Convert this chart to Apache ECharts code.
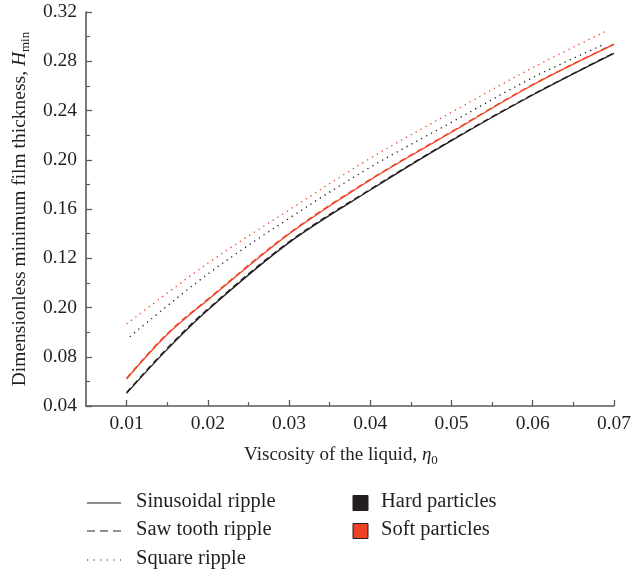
<!DOCTYPE html>
<html>
<head>
<meta charset="utf-8">
<script src="https://cdn.jsdelivr.net/npm/echarts@6/dist/echarts.min.js"></script>
<style>
  html, body { margin: 0; padding: 0; background: #fff; }
  #chart { width: 634px; height: 578px; }
</style>
</head>
<body>
<div id="chart"></div>
<script>
// Viscosity values (x) shared by the sinusoidal and saw tooth curves
const viscosity = [0.01, 0.015, 0.02, 0.03, 0.04, 0.05, 0.06, 0.07];
const sinusoidalHard = [0.0103, 0.046, 0.078, 0.1327, 0.1754, 0.2155, 0.2526, 0.2864];
const sinusoidalSoft = [0.0219, 0.058, 0.0861, 0.1397, 0.1836, 0.2223, 0.2607, 0.2937];
const sawToothHard = [0.0110, 0.0470, 0.0788, 0.1334, 0.1760, 0.2160, 0.2530, 0.2868];
const sawToothSoft = [0.0226, 0.0588, 0.0868, 0.1403, 0.1841, 0.2228, 0.2611, 0.2940];

// Square ripple curves have their own x samples
const squareViscosityHard = [0.0104, 0.02, 0.03, 0.04, 0.05, 0.06, 0.0689];
const squareHard = [0.0563, 0.1072, 0.1524, 0.1939, 0.2304, 0.2667, 0.294];
const squareViscositySoft = [0.0100, 0.02, 0.03, 0.04, 0.05, 0.06, 0.0689];
const squareSoft = [0.0666, 0.1159, 0.1592, 0.2012, 0.2385, 0.2748, 0.304];

// Axis ticks and the labels printed on them
const xMajorTicks = [0.01, 0.02, 0.03, 0.04, 0.05, 0.06, 0.07];
const xMinorTicks = [0.015, 0.025, 0.035, 0.045, 0.055, 0.065];
const yTickLabels = ['0.04', '0.08', '0.20', '0.12', '0.16', '0.20', '0.24', '0.28', '0.32'];

const BLACK = '#231f20';
const RED = '#ef4123';
const AXIS = '#58595b';
const FONT = '"Liberation Serif", "DejaVu Serif", serif';
const LEGEND_FONT = '20.5px ' + FONT;

function pairs(xs, ys) { return xs.map((x, i) => [x, ys[i]]); }

function curve(name, xs, ys, color, type) {
  return {
    name: name,
    type: 'line',
    data: pairs(xs, ys),
    smooth: 0.35,
    showSymbol: false,
    symbol: 'none',
    silent: true,
    lineStyle: { color: color, width: 1.3, type: type, cap: 'butt' }
  };
}

const chart = echarts.init(document.getElementById('chart'), null, { renderer: 'canvas' });

const legendRows = [503, 531, 560];
const legendGraphics = [
  // line style keys
  { type: 'line', shape: { x1: 87, y1: legendRows[0], x2: 121, y2: legendRows[0] }, style: { stroke: BLACK, lineWidth: 1.2 } },
  { type: 'line', shape: { x1: 87, y1: legendRows[1], x2: 121, y2: legendRows[1] }, style: { stroke: BLACK, lineWidth: 1.2, lineDash: [8, 5] } },
  { type: 'line', shape: { x1: 87, y1: legendRows[2], x2: 121, y2: legendRows[2] }, style: { stroke: BLACK, lineWidth: 1.2, lineDash: [1.2, 5.4] } },
  { type: 'text', left: 136, top: legendRows[0] - 12, style: { text: 'Sinusoidal ripple', font: LEGEND_FONT, fill: BLACK } },
  { type: 'text', left: 136, top: legendRows[1] - 12, style: { text: 'Saw tooth ripple', font: LEGEND_FONT, fill: BLACK } },
  { type: 'text', left: 136, top: legendRows[2] - 12, style: { text: 'Square ripple', font: LEGEND_FONT, fill: BLACK } },
  // colour keys
  { type: 'rect', shape: { x: 353, y: legendRows[0] - 7.5, width: 15, height: 15 }, style: { fill: BLACK, stroke: BLACK, lineWidth: 1 } },
  { type: 'rect', shape: { x: 353, y: legendRows[1] - 7.5, width: 15, height: 15 }, style: { fill: RED, stroke: BLACK, lineWidth: 1 } },
  { type: 'text', left: 381, top: legendRows[0] - 12, style: { text: 'Hard particles', font: LEGEND_FONT, fill: BLACK } },
  { type: 'text', left: 381, top: legendRows[1] - 12, style: { text: 'Soft particles', font: LEGEND_FONT, fill: BLACK } }
];

const option = {
  backgroundColor: '#ffffff',
  animation: false,
  textStyle: { fontFamily: FONT },
  grid: { left: 86, right: 18, top: 12, bottom: 172, containLabel: false },
  xAxis: [
    {
      type: 'value',
      min: 0.005,
      max: 0.07,
      name: '{n|Viscosity of the liquid, }{i|η}{s|0}',
      nameLocation: 'middle',
      nameGap: 37,
      nameTextStyle: {
        padding: [0, 18, 0, 0],
        rich: {
          n: { fontFamily: FONT, fontSize: 19, color: BLACK, lineHeight: 24 },
          i: { fontFamily: FONT, fontSize: 19, fontStyle: 'italic', color: BLACK, lineHeight: 24 },
          s: { fontFamily: FONT, fontSize: 13, color: BLACK, lineHeight: 13, verticalAlign: 'bottom' }
        }
      },
      axisLine: { show: true, onZero: false, lineStyle: { color: AXIS, width: 1.6 } },
      axisTick: { show: true, inside: true, length: 6, customValues: xMajorTicks, lineStyle: { color: AXIS, width: 1.3 } },
      axisLabel: {
        customValues: xMajorTicks,
        margin: 8,
        fontFamily: FONT, fontSize: 19.5, color: BLACK,
        formatter: v => v.toFixed(2)
      },
      splitLine: { show: false }
    },
    {
      type: 'value',
      min: 0.005,
      max: 0.07,
      position: 'bottom',
      axisLine: { show: false },
      axisTick: { show: true, inside: true, length: 4, customValues: xMinorTicks, lineStyle: { color: AXIS, width: 1.2 } },
      axisLabel: { show: false },
      splitLine: { show: false }
    }
  ],
  yAxis: {
    type: 'value',
    min: 0,
    max: 0.32,
    interval: 0.04,
    name: 'Dimensionless minimum film thickness, {i|H}{s|min}',
    nameLocation: 'middle',
    nameRotate: 90,
    nameGap: 54,
    nameTextStyle: {
      fontFamily: FONT, fontSize: 19.5, color: BLACK,
      rich: {
        i: { fontFamily: FONT, fontSize: 19.5, fontStyle: 'italic', color: BLACK, lineHeight: 24 },
        s: { fontFamily: FONT, fontSize: 13, color: BLACK, lineHeight: 13, verticalAlign: 'bottom' }
      }
    },
    axisLine: { show: true, lineStyle: { color: AXIS, width: 1.6 } },
    axisTick: { show: true, inside: true, length: 6, lineStyle: { color: AXIS, width: 1.3 } },
    minorTick: { show: true, splitNumber: 2, length: 4, lineStyle: { color: AXIS, width: 1.2 } },
    axisLabel: {
      margin: 9,
      fontFamily: FONT, fontSize: 19.5, color: BLACK,
      formatter: v => yTickLabels[Math.round(v / 0.04)]
    },
    splitLine: { show: false },
    minorSplitLine: { show: false }
  },
  series: [
    curve('Square ripple, soft', squareViscositySoft, squareSoft, RED, [1.3, 4.3]),
    curve('Square ripple, hard', squareViscosityHard, squareHard, BLACK, [1.3, 4.3]),
    curve('Saw tooth ripple, hard', viscosity, sawToothHard, BLACK, [6, 4]),
    curve('Sinusoidal ripple, hard', viscosity, sinusoidalHard, BLACK, 'solid'),
    curve('Saw tooth ripple, soft', viscosity, sawToothSoft, RED, [6, 4]),
    curve('Sinusoidal ripple, soft', viscosity, sinusoidalSoft, RED, 'solid')
  ],
  graphic: legendGraphics
};

chart.setOption(option);
</script>
</body>
</html>
